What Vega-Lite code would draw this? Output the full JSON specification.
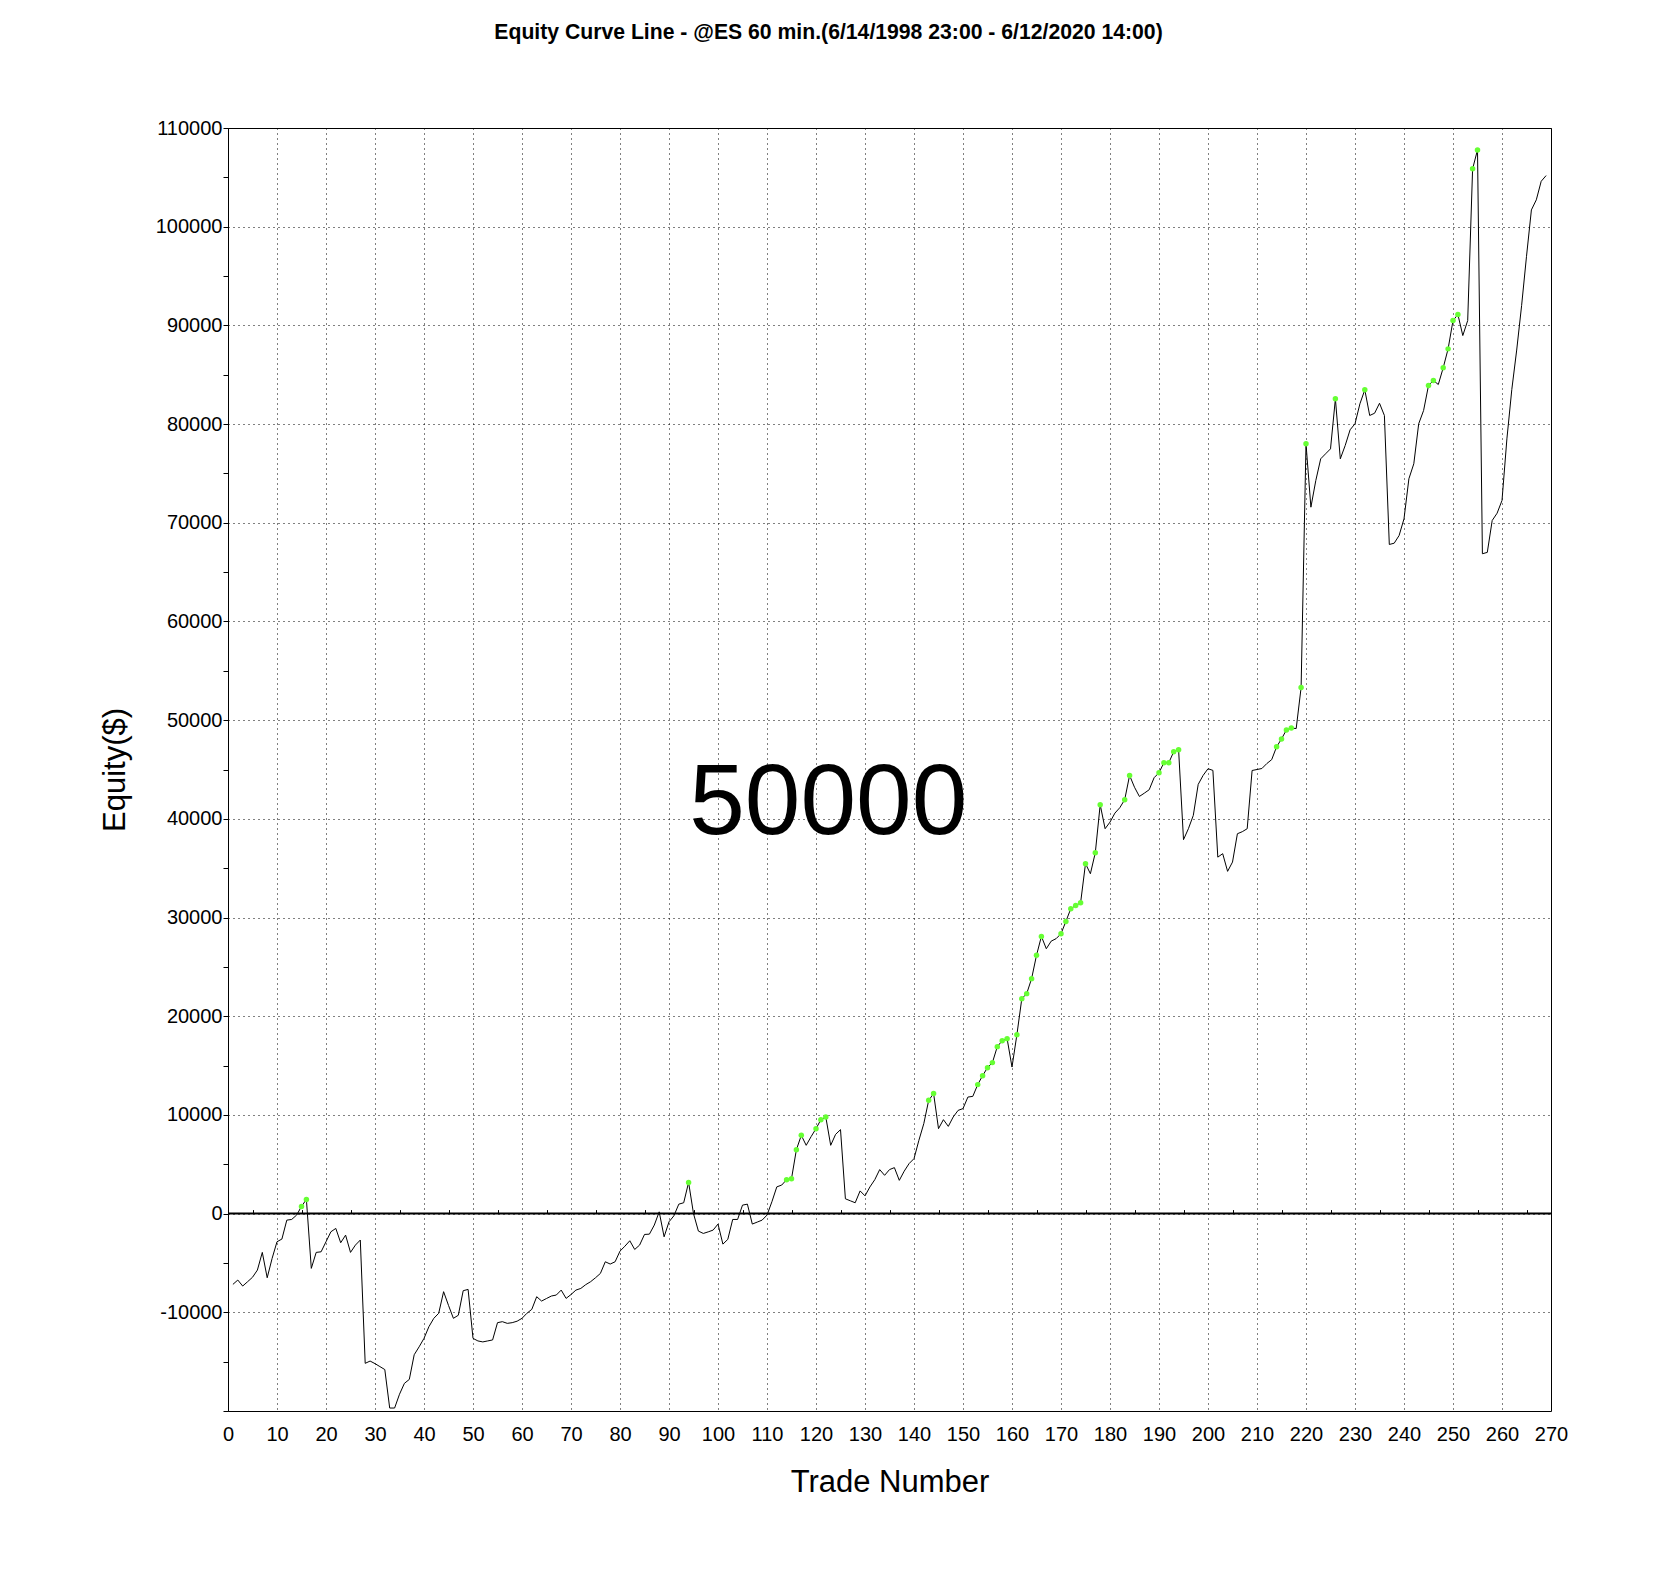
{
  "$schema": "https://vega.github.io/schema/vega-lite/v6.json",
  "autosize": {"type": "none"},
  "width": 1323,
  "height": 1283,
  "padding": {"left": 228, "top": 128, "right": 103, "bottom": 177},
  "background": "white",
  "title": {
    "text": "Equity Curve Line - @ES 60 min.(6/14/1998 23:00 - 6/12/2020 14:00)",
    "font": "Liberation Sans",
    "fontSize": 21.2,
    "fontWeight": "bold",
    "color": "black",
    "anchor": "middle",
    "baseline": "alphabetic",
    "dx": -61,
    "offset": 58
  },
  "data": {
    "values": [
      {"trade": 1, "equity": -7170}, {"trade": 2, "equity": -6730}, {"trade": 3, "equity": -7340},
      {"trade": 4, "equity": -6900}, {"trade": 5, "equity": -6450}, {"trade": 6, "equity": -5720},
      {"trade": 7, "equity": -3930}, {"trade": 8, "equity": -6500}, {"trade": 9, "equity": -4540},
      {"trade": 10, "equity": -2850}, {"trade": 11, "equity": -2580}, {"trade": 12, "equity": -660},
      {"trade": 13, "equity": -590}, {"trade": 14, "equity": -150}, {"trade": 15, "equity": 730},
      {"trade": 16, "equity": 1440}, {"trade": 17, "equity": -5550}, {"trade": 18, "equity": -3930},
      {"trade": 19, "equity": -3870}, {"trade": 20, "equity": -2850}, {"trade": 21, "equity": -1840},
      {"trade": 22, "equity": -1500}, {"trade": 23, "equity": -2950}, {"trade": 24, "equity": -2180},
      {"trade": 25, "equity": -3930}, {"trade": 26, "equity": -3190}, {"trade": 27, "equity": -2680},
      {"trade": 28, "equity": -15170}, {"trade": 29, "equity": -14940}, {"trade": 30, "equity": -15200},
      {"trade": 31, "equity": -15500}, {"trade": 32, "equity": -15800}, {"trade": 33, "equity": -19700},
      {"trade": 34, "equity": -19700}, {"trade": 35, "equity": -18300}, {"trade": 36, "equity": -17200},
      {"trade": 37, "equity": -16800}, {"trade": 38, "equity": -14300}, {"trade": 39, "equity": -13500},
      {"trade": 40, "equity": -12640}, {"trade": 41, "equity": -11460}, {"trade": 42, "equity": -10610},
      {"trade": 43, "equity": -10100}, {"trade": 44, "equity": -7910}, {"trade": 45, "equity": -9300},
      {"trade": 46, "equity": -10610}, {"trade": 47, "equity": -10300}, {"trade": 48, "equity": -7810},
      {"trade": 49, "equity": -7680}, {"trade": 50, "equity": -12640}, {"trade": 51, "equity": -12900},
      {"trade": 52, "equity": -13000}, {"trade": 53, "equity": -12900}, {"trade": 54, "equity": -12800},
      {"trade": 55, "equity": -11050}, {"trade": 56, "equity": -10950}, {"trade": 57, "equity": -11120},
      {"trade": 58, "equity": -11050}, {"trade": 59, "equity": -10900}, {"trade": 60, "equity": -10610},
      {"trade": 61, "equity": -10100}, {"trade": 62, "equity": -9700}, {"trade": 63, "equity": -8420},
      {"trade": 64, "equity": -8860}, {"trade": 65, "equity": -8600}, {"trade": 66, "equity": -8350},
      {"trade": 67, "equity": -8250}, {"trade": 68, "equity": -7750}, {"trade": 69, "equity": -8590},
      {"trade": 70, "equity": -8200}, {"trade": 71, "equity": -7750}, {"trade": 72, "equity": -7580},
      {"trade": 73, "equity": -7200}, {"trade": 74, "equity": -6900}, {"trade": 75, "equity": -6500},
      {"trade": 76, "equity": -6060}, {"trade": 77, "equity": -4880}, {"trade": 78, "equity": -5110},
      {"trade": 79, "equity": -4880}, {"trade": 80, "equity": -3800}, {"trade": 81, "equity": -3300},
      {"trade": 82, "equity": -2750}, {"trade": 83, "equity": -3630}, {"trade": 84, "equity": -3190},
      {"trade": 85, "equity": -2110}, {"trade": 86, "equity": -2080}, {"trade": 87, "equity": -1160},
      {"trade": 88, "equity": 180}, {"trade": 89, "equity": -2350}, {"trade": 90, "equity": -830},
      {"trade": 91, "equity": -220}, {"trade": 92, "equity": 960}, {"trade": 93, "equity": 1100},
      {"trade": 94, "equity": 3160}, {"trade": 95, "equity": 0}, {"trade": 96, "equity": -1770},
      {"trade": 97, "equity": -2010}, {"trade": 98, "equity": -1850}, {"trade": 99, "equity": -1670},
      {"trade": 100, "equity": -1060}, {"trade": 101, "equity": -3090}, {"trade": 102, "equity": -2610},
      {"trade": 103, "equity": -590}, {"trade": 104, "equity": -590}, {"trade": 105, "equity": 860},
      {"trade": 106, "equity": 960}, {"trade": 107, "equity": -1060}, {"trade": 108, "equity": -860},
      {"trade": 109, "equity": -660}, {"trade": 110, "equity": -150}, {"trade": 111, "equity": 1200},
      {"trade": 112, "equity": 2710}, {"trade": 113, "equity": 2890}, {"trade": 114, "equity": 3440},
      {"trade": 115, "equity": 3540}, {"trade": 116, "equity": 6480}, {"trade": 117, "equity": 7930},
      {"trade": 118, "equity": 6920}, {"trade": 119, "equity": 7800}, {"trade": 120, "equity": 8610},
      {"trade": 121, "equity": 9520}, {"trade": 122, "equity": 9790}, {"trade": 123, "equity": 6920},
      {"trade": 124, "equity": 8030}, {"trade": 125, "equity": 8510}, {"trade": 126, "equity": 1500},
      {"trade": 127, "equity": 1300}, {"trade": 128, "equity": 1100}, {"trade": 129, "equity": 2300},
      {"trade": 130, "equity": 1800}, {"trade": 131, "equity": 2700}, {"trade": 132, "equity": 3440},
      {"trade": 133, "equity": 4460}, {"trade": 134, "equity": 3880}, {"trade": 135, "equity": 4460},
      {"trade": 136, "equity": 4660}, {"trade": 137, "equity": 3370}, {"trade": 138, "equity": 4300},
      {"trade": 139, "equity": 5070}, {"trade": 140, "equity": 5570}, {"trade": 141, "equity": 7430},
      {"trade": 142, "equity": 9120}, {"trade": 143, "equity": 11480}, {"trade": 144, "equity": 12160},
      {"trade": 145, "equity": 8610}, {"trade": 146, "equity": 9520}, {"trade": 147, "equity": 8840},
      {"trade": 148, "equity": 9790}, {"trade": 149, "equity": 10460}, {"trade": 150, "equity": 10640},
      {"trade": 151, "equity": 11810}, {"trade": 152, "equity": 11880}, {"trade": 153, "equity": 13070},
      {"trade": 154, "equity": 13980}, {"trade": 155, "equity": 14790}, {"trade": 156, "equity": 15300},
      {"trade": 157, "equity": 16920}, {"trade": 158, "equity": 17520}, {"trade": 159, "equity": 17730},
      {"trade": 160, "equity": 14850}, {"trade": 161, "equity": 18130}, {"trade": 162, "equity": 21780},
      {"trade": 163, "equity": 22290}, {"trade": 164, "equity": 23810}, {"trade": 165, "equity": 26170},
      {"trade": 166, "equity": 28090}, {"trade": 167, "equity": 26840}, {"trade": 168, "equity": 27610},
      {"trade": 169, "equity": 27860}, {"trade": 170, "equity": 28360}, {"trade": 171, "equity": 29610},
      {"trade": 172, "equity": 30900}, {"trade": 173, "equity": 31230}, {"trade": 174, "equity": 31500},
      {"trade": 175, "equity": 35460}, {"trade": 176, "equity": 34440}, {"trade": 177, "equity": 36570},
      {"trade": 178, "equity": 41430}, {"trade": 179, "equity": 39000}, {"trade": 180, "equity": 39670},
      {"trade": 181, "equity": 40580}, {"trade": 182, "equity": 41130}, {"trade": 183, "equity": 41940},
      {"trade": 184, "equity": 44400}, {"trade": 185, "equity": 43200}, {"trade": 186, "equity": 42270},
      {"trade": 187, "equity": 42600}, {"trade": 188, "equity": 42950}, {"trade": 189, "equity": 44170},
      {"trade": 190, "equity": 44670}, {"trade": 191, "equity": 45690}, {"trade": 192, "equity": 45690},
      {"trade": 193, "equity": 46800}, {"trade": 194, "equity": 47000}, {"trade": 195, "equity": 37890},
      {"trade": 196, "equity": 39000}, {"trade": 197, "equity": 40350}, {"trade": 198, "equity": 43490},
      {"trade": 199, "equity": 44400}, {"trade": 200, "equity": 45080}, {"trade": 201, "equity": 44910},
      {"trade": 202, "equity": 36120}, {"trade": 203, "equity": 36470}, {"trade": 204, "equity": 34680},
      {"trade": 205, "equity": 35620}, {"trade": 206, "equity": 38490}, {"trade": 207, "equity": 38700},
      {"trade": 208, "equity": 39000}, {"trade": 209, "equity": 44900}, {"trade": 210, "equity": 45000},
      {"trade": 211, "equity": 45100}, {"trade": 212, "equity": 45600}, {"trade": 213, "equity": 46000},
      {"trade": 214, "equity": 47300}, {"trade": 215, "equity": 48100}, {"trade": 216, "equity": 49000},
      {"trade": 217, "equity": 49200}, {"trade": 218, "equity": 49150}, {"trade": 219, "equity": 53300},
      {"trade": 220, "equity": 78000}, {"trade": 221, "equity": 71580}, {"trade": 222, "equity": 74280},
      {"trade": 223, "equity": 76480}, {"trade": 224, "equity": 76990}, {"trade": 225, "equity": 77490},
      {"trade": 226, "equity": 82560}, {"trade": 227, "equity": 76480}, {"trade": 228, "equity": 77830},
      {"trade": 229, "equity": 79420}, {"trade": 230, "equity": 80030}, {"trade": 231, "equity": 82050},
      {"trade": 232, "equity": 83470}, {"trade": 233, "equity": 80870}, {"trade": 234, "equity": 81100},
      {"trade": 235, "equity": 82110}, {"trade": 236, "equity": 80870}, {"trade": 237, "equity": 67800},
      {"trade": 238, "equity": 67930}, {"trade": 239, "equity": 68710}, {"trade": 240, "equity": 70400},
      {"trade": 241, "equity": 74460}, {"trade": 242, "equity": 75980}, {"trade": 243, "equity": 80030},
      {"trade": 244, "equity": 81380}, {"trade": 245, "equity": 83910}, {"trade": 246, "equity": 84420},
      {"trade": 247, "equity": 84010}, {"trade": 248, "equity": 85700}, {"trade": 249, "equity": 87620},
      {"trade": 250, "equity": 90490}, {"trade": 251, "equity": 91100}, {"trade": 252, "equity": 88970},
      {"trade": 253, "equity": 90490}, {"trade": 254, "equity": 105860}, {"trade": 255, "equity": 107780},
      {"trade": 256, "equity": 66860}, {"trade": 257, "equity": 67000}, {"trade": 258, "equity": 70230},
      {"trade": 259, "equity": 70970}, {"trade": 260, "equity": 72260}, {"trade": 261, "equity": 78500},
      {"trade": 262, "equity": 83500}, {"trade": 263, "equity": 87500}, {"trade": 264, "equity": 92000},
      {"trade": 265, "equity": 97000}, {"trade": 266, "equity": 101700}, {"trade": 267, "equity": 102720},
      {"trade": 268, "equity": 104600}, {"trade": 269, "equity": 105180}
    ]
  },
  "layer": [
    {
      "data": {"values": [{}]},
      "mark": {"type": "rule", "color": "black", "strokeWidth": 2},
      "encoding": {
        "x": {
          "datum": 0,
          "type": "quantitative",
          "axis": {
            "orient": "top",
            "offset": -1085.6,
            "values": [5, 15, 25, 35, 45, 55, 65, 75, 85, 95, 105, 115, 125, 135, 145, 155, 165, 175, 185, 195, 205, 215, 225, 235, 245, 255, 265],
            "labels": false,
            "grid": false,
            "domain": false,
            "ticks": true,
            "tickSize": 4,
            "tickColor": "black",
            "title": null
          }
        },
        "x2": {"datum": 270},
        "y": {"datum": 0, "type": "quantitative"}
      }
    },
    {
      "mark": {"type": "line", "color": "black", "strokeWidth": 1},
      "encoding": {
        "x": {
          "field": "trade",
          "type": "quantitative",
          "scale": {"domain": [0, 270], "nice": false, "zero": false},
          "axis": {
            "orient": "bottom",
            "values": [0, 10, 20, 30, 40, 50, 60, 70, 80, 90, 100, 110, 120, 130, 140, 150, 160, 170, 180, 190, 200, 210, 220, 230, 240, 250, 260, 270],
            "format": "d",
            "grid": true,
            "gridColor": "black",
            "gridDash": [1, 4],
            "gridOpacity": 1,
            "domain": false,
            "ticks": false,
            "labelFont": "Liberation Sans",
            "labelFontSize": 20,
            "labelColor": "black",
            "labelPadding": 13,
            "labelFlush": false,
            "labelOverlap": false,
            "title": "Trade Number",
            "titleFont": "Liberation Sans",
            "titleFontSize": 31,
            "titleFontWeight": "normal",
            "titleColor": "black",
            "titlePadding": 23
          }
        },
        "y": {
          "field": "equity",
          "type": "quantitative",
          "scale": {"domain": [-20000, 110000], "nice": false},
          "axis": {
            "orient": "left",
            "values": [-20000, -15000, -10000, -5000, 0, 5000, 10000, 15000, 20000, 25000, 30000, 35000, 40000, 45000, 50000, 55000, 60000, 65000, 70000, 75000, 80000, 85000, 90000, 95000, 100000, 105000, 110000],
            "labelExpr": "datum.value % 10000 === 0 && datum.value > -20000 ? '' + datum.value : ''",
            "grid": true,
            "gridColor": "black",
            "gridDash": [1, 4],
            "gridOpacity": {"condition": {"test": "datum.value % 10000 !== 0", "value": 0}, "value": 1},
            "domain": false,
            "ticks": true,
            "tickSize": 5,
            "tickColor": "black",
            "labelFont": "Liberation Sans",
            "labelFontSize": 20,
            "labelColor": "black",
            "labelPadding": 1,
            "labelFlush": false,
            "labelOverlap": false,
            "title": "Equity($)",
            "titleFont": "Liberation Sans",
            "titleFontSize": 31,
            "titleFontWeight": "normal",
            "titleColor": "black",
            "titlePadding": 24
          }
        }
      }
    },
    {
      "transform": [
        {"window": [{"op": "max", "field": "equity", "as": "peak"}], "sort": [{"field": "trade"}], "frame": [null, 0]},
        {"filter": "datum.equity > 0 && datum.equity >= datum.peak"}
      ],
      "mark": {"type": "circle", "color": "#66ff33", "opacity": 1, "size": 30},
      "encoding": {
        "x": {"field": "trade", "type": "quantitative", "axis": null},
        "y": {"field": "equity", "type": "quantitative"}
      }
    },
    {
      "data": {"values": [{}]},
      "mark": {"type": "text", "font": "Liberation Sans", "fontSize": 100, "align": "center", "baseline": "alphabetic", "color": "black"},
      "encoding": {
        "x": {"datum": 122.5, "type": "quantitative", "axis": null},
        "y": {"datum": 38500, "type": "quantitative"},
        "text": {"value": "50000"}
      }
    }
  ],
  "resolve": {"axis": {"x": "independent"}},
  "config": {
    "view": {"stroke": "black", "strokeWidth": 1}
  }
}
